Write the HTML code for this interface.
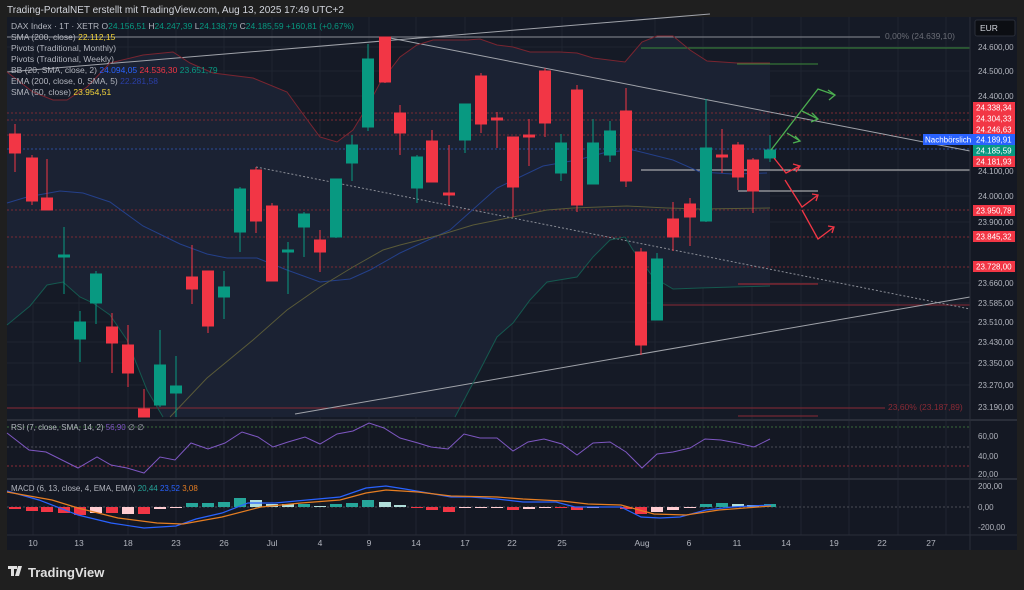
<!DOCTYPE html>
<html><head><meta charset="utf-8"><style>
html,body{margin:0;padding:0;background:#1f1f1f;width:1024px;height:590px;overflow:hidden}
svg{display:block}
text{font-family:"Liberation Sans",sans-serif}
</style></head><body>
<svg width="1024" height="590" viewBox="0 0 1024 590" xmlns="http://www.w3.org/2000/svg">
<rect width="1024" height="590" fill="#1f1f1f"/>
<text x="7" y="13" fill="#d1d4dc" font-size="10">Trading-PortalNET erstellt mit TradingView.com, Aug 13, 2025 17:49 UTC+2</text>
<rect x="7" y="17" width="1010" height="533" fill="#141823"/>
<rect x="7" y="17" width="963" height="403" fill="#151a26"/>
<!-- grid -->
<g stroke="#1f2430" stroke-width="1">
<line x1="33" y1="17" x2="33" y2="535"/><line x1="79" y1="17" x2="79" y2="535"/><line x1="128" y1="17" x2="128" y2="535"/><line x1="176" y1="17" x2="176" y2="535"/><line x1="224" y1="17" x2="224" y2="535"/><line x1="272" y1="17" x2="272" y2="535"/><line x1="320" y1="17" x2="320" y2="535"/><line x1="369" y1="17" x2="369" y2="535"/><line x1="416" y1="17" x2="416" y2="535"/><line x1="465" y1="17" x2="465" y2="535"/><line x1="512" y1="17" x2="512" y2="535"/><line x1="562" y1="17" x2="562" y2="535"/><line x1="655" y1="17" x2="655" y2="535"/><line x1="703" y1="17" x2="703" y2="535"/><line x1="752" y1="17" x2="752" y2="535"/><line x1="801" y1="17" x2="801" y2="535"/><line x1="849" y1="17" x2="849" y2="535"/><line x1="898" y1="17" x2="898" y2="535"/><line x1="946" y1="17" x2="946" y2="535"/>
<line x1="7" y1="47" x2="970" y2="47"/><line x1="7" y1="71" x2="970" y2="71"/><line x1="7" y1="96" x2="970" y2="96"/><line x1="7" y1="171" x2="970" y2="171"/><line x1="7" y1="196" x2="970" y2="196"/><line x1="7" y1="222" x2="970" y2="222"/><line x1="7" y1="283" x2="970" y2="283"/><line x1="7" y1="303" x2="970" y2="303"/><line x1="7" y1="322" x2="970" y2="322"/><line x1="7" y1="342" x2="970" y2="342"/><line x1="7" y1="363" x2="970" y2="363"/><line x1="7" y1="385" x2="970" y2="385"/>
</g>
<!-- BB fill -->
<polygon fill="#1b2233" points="7,72 33,92 53,100 67,100 87,87 110,63 143,55 173,52 190,63 213,73 253,78 287,92 300,110 320,137 337,142 353,130 367,107 380,83 400,57 417,45 433,40 467,40 480,39 497,45 513,47 530,52 560,52 577,53 593,58 625,62 642,42 657,36 673,36 690,50 707,61 737,63 770,63 770,286 733,287 700,288 673,289 653,277 633,250 625,237 610,240 593,257 577,277 547,282 530,300 513,323 497,337 480,370 455,417 163,417 147,390 127,340 110,315 93,303 80,297 63,282 47,285 30,306 7,325"/>
<!-- levels -->
<g stroke-width="1" fill="none">
<line x1="7" y1="37" x2="880" y2="37" stroke="#8a8d96"/>
<g stroke="#7a2a33" stroke-dasharray="2,2"><line x1="7" y1="113" x2="970" y2="113"/><line x1="7" y1="120" x2="970" y2="120"/><line x1="7" y1="135" x2="970" y2="135"/><line x1="7" y1="210" x2="970" y2="210"/><line x1="7" y1="237" x2="970" y2="237"/><line x1="7" y1="267" x2="970" y2="267"/></g>
<line x1="7" y1="149" x2="970" y2="149" stroke="#2a4a9a" stroke-dasharray="2,2"/>
<line x1="7" y1="408" x2="885" y2="408" stroke="#8a2a35"/>
<line x1="641" y1="48" x2="970" y2="48" stroke="#3a8a3a"/>
<line x1="737" y1="64" x2="818" y2="64" stroke="#3a8a3a"/>
<line x1="641" y1="170" x2="970" y2="170" stroke="#c8c8c8"/>
<line x1="738" y1="191" x2="818" y2="191" stroke="#c8c8c8"/>
<line x1="738" y1="284" x2="818" y2="284" stroke="#b02a35"/>
<line x1="656" y1="305" x2="970" y2="305" stroke="#8a2a35"/>
<line x1="738" y1="416" x2="818" y2="416" stroke="#8a2a35"/>
<!-- trendlines -->
<line x1="7" y1="72" x2="710" y2="14" stroke="#a0a3aa"/>
<line x1="385" y1="37" x2="970" y2="151" stroke="#a0a3aa"/>
<line x1="256" y1="167" x2="970" y2="309" stroke="#8a8d96" stroke-dasharray="2,2"/>
<line x1="295" y1="414" x2="970" y2="297" stroke="#a0a3aa"/>
<!-- BB lines -->
<polyline stroke="#7a2530" points="7,72 33,92 53,100 67,100 87,87 110,63 143,55 173,52 190,63 213,73 253,78 287,92 300,110 320,137 337,142 353,130 367,107 380,83 400,57 417,45 433,40 467,40 480,39 497,45 513,47 530,52 560,52 577,53 593,58 625,62 642,42 657,36 673,36 690,50 707,61 737,63 770,63"/>
<polyline stroke="#24408a" points="7,203 27,197 60,191 83,193 110,202 143,226 180,244 207,254 227,258 257,258 287,270 320,282 350,279 370,270 400,253 450,230 497,188 543,166 577,160 607,152 633,150 673,160 700,172 733,174 767,173"/>
<polyline stroke="#15594f" points="7,325 30,306 47,285 63,282 80,297 93,303 110,315 127,340 147,390 163,417"/>
<polyline stroke="#15594f" points="455,417 480,370 497,337 513,323 530,300 547,282 577,277 593,257 610,240 625,237 633,250 653,277 673,289 700,288 733,287 770,286"/>
<polyline stroke="#5a5a38" points="170,417 207,378 253,340 287,310 320,287 353,267 383,250 400,245 440,235 473,225 513,217 547,210 573,208 627,206 667,208 700,209 770,208"/>
</g>
<!-- candles -->
<g stroke-width="1">
<g stroke="#f23645" fill="#f23645">
<line x1="15" y1="124" x2="15" y2="172"/><rect x="9.5" y="134" width="11" height="19"/>
<line x1="32" y1="155" x2="32" y2="205"/><rect x="26.5" y="158" width="11" height="43"/>
<line x1="47" y1="159" x2="47" y2="210"/><rect x="41.5" y="198" width="11" height="12"/>
<line x1="112" y1="313" x2="112" y2="373"/><rect x="106.5" y="327" width="11" height="16"/>
<line x1="128" y1="325" x2="128" y2="387"/><rect x="122.5" y="345" width="11" height="28"/>
<line x1="144" y1="389" x2="144" y2="417"/><rect x="138.5" y="409" width="11" height="8"/>
<line x1="192" y1="245" x2="192" y2="304"/><rect x="186.5" y="277" width="11" height="12"/>
<line x1="208" y1="271" x2="208" y2="333"/><rect x="202.5" y="271" width="11" height="55"/>
<line x1="256" y1="167" x2="256" y2="233"/><rect x="250.5" y="170" width="11" height="51"/>
<line x1="272" y1="203" x2="272" y2="281"/><rect x="266.5" y="206" width="11" height="75"/>
<line x1="320" y1="230" x2="320" y2="272"/><rect x="314.5" y="240" width="11" height="12"/>
<line x1="385" y1="37" x2="385" y2="83"/><rect x="379.5" y="37" width="11" height="45"/>
<line x1="400" y1="105" x2="400" y2="155"/><rect x="394.5" y="113" width="11" height="20"/>
<line x1="432" y1="130" x2="432" y2="182"/><rect x="426.5" y="141" width="11" height="41"/>
<line x1="449" y1="145" x2="449" y2="205"/><rect x="443.5" y="193" width="11" height="2"/>
<line x1="481" y1="73" x2="481" y2="133"/><rect x="475.5" y="76" width="11" height="48"/>
<line x1="497" y1="112" x2="497" y2="148"/><rect x="491.5" y="118" width="11" height="2"/>
<line x1="513" y1="137" x2="513" y2="217"/><rect x="507.5" y="137" width="11" height="50"/>
<line x1="529" y1="119" x2="529" y2="166"/><rect x="523.5" y="135" width="11" height="2"/>
<line x1="545" y1="68" x2="545" y2="137"/><rect x="539.5" y="71" width="11" height="52"/>
<line x1="577" y1="85" x2="577" y2="212"/><rect x="571.5" y="90" width="11" height="115"/>
<line x1="626" y1="88" x2="626" y2="187"/><rect x="620.5" y="111" width="11" height="70"/>
<line x1="641" y1="248" x2="641" y2="355"/><rect x="635.5" y="252" width="11" height="93"/>
<line x1="673" y1="202" x2="673" y2="251"/><rect x="667.5" y="219" width="11" height="18"/>
<line x1="690" y1="198" x2="690" y2="246"/><rect x="684.5" y="204" width="11" height="13"/>
<line x1="722" y1="129" x2="722" y2="173"/><rect x="716.5" y="155" width="11" height="2"/>
<line x1="738" y1="142" x2="738" y2="190"/><rect x="732.5" y="145" width="11" height="32"/>
<line x1="753" y1="158" x2="753" y2="213"/><rect x="747.5" y="160" width="11" height="31"/>
</g>
<g stroke="#089981" fill="#089981">
<line x1="64" y1="227" x2="64" y2="294"/><rect x="58.5" y="255" width="11" height="2"/>
<line x1="80" y1="311" x2="80" y2="362"/><rect x="74.5" y="322" width="11" height="17"/>
<line x1="96" y1="271" x2="96" y2="324"/><rect x="90.5" y="274" width="11" height="29"/>
<line x1="160" y1="330" x2="160" y2="407"/><rect x="154.5" y="365" width="11" height="40"/>
<line x1="176" y1="356" x2="176" y2="417"/><rect x="170.5" y="386" width="11" height="7"/>
<line x1="224" y1="271" x2="224" y2="319"/><rect x="218.5" y="287" width="11" height="10"/>
<line x1="240" y1="187" x2="240" y2="252"/><rect x="234.5" y="189" width="11" height="43"/>
<line x1="288" y1="242" x2="288" y2="294"/><rect x="282.5" y="250" width="11" height="2"/>
<line x1="304" y1="212" x2="304" y2="257"/><rect x="298.5" y="214" width="11" height="13"/>
<line x1="336" y1="179" x2="336" y2="238"/><rect x="330.5" y="179" width="11" height="58"/>
<line x1="352" y1="135" x2="352" y2="181"/><rect x="346.5" y="145" width="11" height="18"/>
<line x1="368" y1="44" x2="368" y2="131"/><rect x="362.5" y="59" width="11" height="68"/>
<line x1="417" y1="155" x2="417" y2="203"/><rect x="411.5" y="157" width="11" height="31"/>
<line x1="465" y1="104" x2="465" y2="153"/><rect x="459.5" y="104" width="11" height="36"/>
<line x1="561" y1="134" x2="561" y2="181"/><rect x="555.5" y="143" width="11" height="30"/>
<line x1="593" y1="119" x2="593" y2="184"/><rect x="587.5" y="143" width="11" height="41"/>
<line x1="610" y1="121" x2="610" y2="162"/><rect x="604.5" y="131" width="11" height="24"/>
<line x1="657" y1="253" x2="657" y2="320"/><rect x="651.5" y="259" width="11" height="61"/>
<line x1="706" y1="99" x2="706" y2="222"/><rect x="700.5" y="148" width="11" height="73"/>
<line x1="770" y1="135" x2="770" y2="162"/><rect x="764.5" y="150" width="11" height="8"/>
</g>
</g>
<!-- forecast arrows -->
<g fill="none" stroke-width="1.3">
<g stroke="#4caf50"><polyline points="771,150 818,89 835,95"/><polyline points="828,90 835,95 829,100"/><polyline points="802,111 818,119"/><polyline points="812,113 818,119 811,122"/><polyline points="787,133 800,141"/><polyline points="795,136 800,141 793,143"/></g>
<g stroke="#f23645"><polyline points="774,158 786,173 800,166"/><polyline points="793,164 800,166 796,172"/><polyline points="785,180 802,207 818,195"/><polyline points="812,194 818,195 816,201"/><polyline points="802,210 818,239 834,227"/><polyline points="828,226 834,227 832,233"/></g>
</g>
<!-- legend -->
<g font-size="8.5">
<text x="11" y="29" fill="#b2b5be">DAX Index · 1T · XETR  <tspan fill="#b2b5be">O</tspan><tspan fill="#089981">24.156,51</tspan> H<tspan fill="#089981">24.247,39</tspan> L<tspan fill="#089981">24.138,79</tspan> C<tspan fill="#089981">24.185,59 +160,81 (+0,67%)</tspan></text>
<text x="11" y="40" fill="#b2b5be">SMA (200, close) <tspan fill="#f5d63c">22.112,15</tspan></text>
<text x="11" y="51" fill="#b2b5be">Pivots (Traditional, Monthly)</text>
<text x="11" y="62" fill="#b2b5be">Pivots (Traditional, Weekly)</text>
<text x="11" y="73" fill="#b2b5be">BB (20, SMA, close, 2) <tspan fill="#2962ff">24.094,05</tspan> <tspan fill="#f23645">24.536,30</tspan> <tspan fill="#089981">23.651,79</tspan></text>
<text x="11" y="84" fill="#b2b5be">EMA (200, close, 0, SMA, 5) <tspan fill="#2a3fa8">22.281,58</tspan></text>
<text x="11" y="95" fill="#b2b5be">SMA (50, close) <tspan fill="#f5d63c">23.954,51</tspan></text>
<text x="885" y="39" fill="#6a6d76">0,00% (24.639,10)</text>
<text x="888" y="410" fill="#8a2a35">23,60% (23.187,89)</text>
</g>
<!-- price axis -->
<line x1="970" y1="17" x2="970" y2="550" stroke="#2a2e39"/>
<rect x="975" y="20" width="40" height="16" rx="2" fill="#0c0e13" stroke="#2a2e39"/>
<text x="980" y="31" fill="#d1d4dc" font-size="8.5">EUR</text>
<g font-size="8" fill="#b2b5be">
<text x="978" y="50">24.600,00</text><text x="978" y="74">24.500,00</text><text x="978" y="99">24.400,00</text><text x="978" y="174">24.100,00</text><text x="978" y="199">24.000,00</text><text x="978" y="225">23.900,00</text><text x="978" y="286">23.660,00</text><text x="978" y="306">23.585,00</text><text x="978" y="325">23.510,00</text><text x="978" y="345">23.430,00</text><text x="978" y="366">23.350,00</text><text x="978" y="388">23.270,00</text><text x="978" y="410">23.190,00</text>
<text x="978" y="439">60,00</text><text x="978" y="459">40,00</text><text x="978" y="477">20,00</text>
<text x="978" y="489">200,00</text><text x="978" y="510">0,00</text><text x="978" y="530">-200,00</text>
</g>
<g font-size="8" fill="#fff">
<rect x="973" y="102" width="42" height="11" fill="#f23645"/><text x="976" y="110.5">24.338,34</text>
<rect x="973" y="113" width="42" height="11" fill="#f23645"/><text x="976" y="121.5">24.304,33</text>
<rect x="973" y="124" width="42" height="11" fill="#f23645"/><text x="976" y="132.5">24.246,63</text>
<rect x="923" y="134" width="50" height="11" fill="#2962ff"/><text x="925" y="142.5">Nachbörslich</text>
<rect x="973" y="134" width="42" height="11" fill="#2962ff"/><text x="976" y="142.5">24.189,91</text>
<rect x="973" y="145" width="42" height="11" fill="#089981"/><text x="976" y="153.5">24.185,59</text>
<rect x="973" y="156" width="42" height="11" fill="#f23645"/><text x="976" y="164.5">24.181,93</text>
<rect x="973" y="205" width="42" height="11" fill="#f23645"/><text x="976" y="213.5">23.950,78</text>
<rect x="973" y="231" width="42" height="11" fill="#f23645"/><text x="976" y="239.5">23.845,32</text>
<rect x="973" y="261" width="42" height="11" fill="#f23645"/><text x="976" y="269.5">23.728,00</text>
</g>
<!-- pane separators -->
<line x1="7" y1="420" x2="1017" y2="420" stroke="#2a2e39" stroke-width="2"/>
<line x1="7" y1="479" x2="1017" y2="479" stroke="#2a2e39" stroke-width="2"/>
<line x1="7" y1="535" x2="1017" y2="535" stroke="#2a2e39"/>
<!-- RSI -->
<line x1="7" y1="427" x2="970" y2="427" stroke="#3a6a3a" stroke-dasharray="2,2"/>
<line x1="7" y1="447" x2="970" y2="447" stroke="#4a4d56" stroke-dasharray="2,2"/>
<line x1="7" y1="466" x2="970" y2="466" stroke="#8a2a35" stroke-dasharray="2,2"/>
<polyline fill="none" stroke="#7e57c2" stroke-width="1" points="7,433 29,450 46,452 78,468 97,457 111,465 127,468 144,473 160,457 175,460 191,443 208,449 225,443 242,432 258,437 273,447 288,442 305,437 320,444 337,434 353,431 369,423 384,428 400,438 418,443 431,447 448,449 464,434 480,438 497,438 513,451 528,442 544,439 562,444 577,455 593,443 610,442 626,452 642,468 657,454 673,452 690,448 705,439 721,440 737,443 754,447 770,439"/>
<text x="11" y="430" font-size="8" fill="#b2b5be">RSI (7, close, SMA, 14, 2) <tspan fill="#7e57c2">56,90</tspan> ∅ ∅</text>
<!-- MACD -->
<line x1="7" y1="507" x2="970" y2="507" stroke="#4a4d56" stroke-dasharray="2,2"/>
<g>
<rect x="9" y="507" width="12" height="2" fill="#f23645"/><rect x="26" y="507" width="12" height="4" fill="#f23645"/><rect x="41" y="507" width="12" height="5" fill="#f23645"/><rect x="58" y="507" width="12" height="6" fill="#f23645"/><rect x="74" y="507" width="12" height="8" fill="#f23645"/><rect x="90" y="507" width="12" height="6" fill="#ffcdd2"/><rect x="106" y="507" width="12" height="6" fill="#f23645"/><rect x="122" y="507" width="12" height="7" fill="#ffcdd2"/><rect x="138" y="507" width="12" height="7" fill="#f23645"/><rect x="154" y="507" width="12" height="2" fill="#ffcdd2"/><rect x="170" y="507" width="12" height="1" fill="#ffcdd2"/>
<rect x="186" y="503" width="12" height="4" fill="#26a69a"/><rect x="202" y="503" width="12" height="4" fill="#26a69a"/><rect x="218" y="502" width="12" height="5" fill="#26a69a"/><rect x="234" y="498" width="12" height="9" fill="#26a69a"/><rect x="250" y="500" width="12" height="7" fill="#b2dfdb"/><rect x="266" y="504" width="12" height="3" fill="#b2dfdb"/><rect x="282" y="504" width="12" height="3" fill="#b2dfdb"/><rect x="298" y="504" width="12" height="3" fill="#26a69a"/><rect x="314" y="506" width="12" height="1" fill="#b2dfdb"/><rect x="330" y="504" width="12" height="3" fill="#26a69a"/><rect x="346" y="503" width="12" height="4" fill="#26a69a"/><rect x="362" y="500" width="12" height="7" fill="#26a69a"/><rect x="379" y="502" width="12" height="5" fill="#b2dfdb"/><rect x="394" y="505" width="12" height="2" fill="#b2dfdb"/>
<rect x="411" y="507" width="12" height="1" fill="#f23645"/><rect x="426" y="507" width="12" height="3" fill="#f23645"/><rect x="443" y="507" width="12" height="5" fill="#f23645"/>
<rect x="459" y="507" width="12" height="1" fill="#ffcdd2"/><rect x="475" y="507" width="12" height="1" fill="#ffcdd2"/><rect x="491" y="507" width="12" height="1" fill="#ffcdd2"/>
<rect x="507" y="507" width="12" height="3" fill="#f23645"/><rect x="523" y="507" width="12" height="2" fill="#ffcdd2"/><rect x="539" y="507" width="12" height="1" fill="#ffcdd2"/><rect x="555" y="507" width="12" height="1" fill="#f23645"/><rect x="571" y="507" width="12" height="3" fill="#f23645"/><rect x="587" y="507" width="12" height="1" fill="#ffcdd2"/><rect x="620" y="507" width="12" height="2" fill="#f23645"/>
<rect x="635" y="507" width="12" height="7" fill="#f23645"/><rect x="651" y="507" width="12" height="5" fill="#ffcdd2"/><rect x="667" y="507" width="12" height="3" fill="#ffcdd2"/><rect x="684" y="507" width="12" height="1" fill="#ffcdd2"/>
<rect x="700" y="504" width="12" height="3" fill="#26a69a"/><rect x="716" y="503" width="12" height="4" fill="#26a69a"/><rect x="732" y="504" width="12" height="3" fill="#b2dfdb"/><rect x="747" y="505" width="12" height="2" fill="#b2dfdb"/><rect x="764" y="504" width="12" height="3" fill="#26a69a"/>
</g>
<polyline fill="none" stroke="#2962ff" stroke-width="1.2" points="7,491 39,500 78,515 111,523 144,528 176,526 196,519 222,513 248,503 275,503 307,500 340,497 366,488 386,486 405,489 451,497 471,497 497,499 523,502 556,502 575,507 621,507 641,517 660,518 680,517 706,510 732,507 771,505"/>
<polyline fill="none" stroke="#e67e22" stroke-width="1.2" points="7,492 52,500 78,508 118,518 157,523 183,524 222,517 261,507 301,503 340,500 366,493 386,490 418,492 451,496 497,497 523,499 562,501 588,504 621,505 654,514 686,515 719,510 771,506"/>
<text x="11" y="491" font-size="8" fill="#b2b5be">MACD (6, 13, close, 4, EMA, EMA) <tspan fill="#26a69a">20,44</tspan> <tspan fill="#2962ff">23,52</tspan> <tspan fill="#e67e22">3,08</tspan></text>
<!-- time axis -->
<g font-size="8.5" fill="#b2b5be" text-anchor="middle">
<text x="33" y="546">10</text><text x="79" y="546">13</text><text x="128" y="546">18</text><text x="176" y="546">23</text><text x="224" y="546">26</text><text x="272" y="546">Jul</text><text x="320" y="546">4</text><text x="369" y="546">9</text><text x="416" y="546">14</text><text x="465" y="546">17</text><text x="512" y="546">22</text><text x="562" y="546">25</text><text x="642" y="546">Aug</text><text x="689" y="546">6</text><text x="737" y="546">11</text><text x="786" y="546">14</text><text x="834" y="546">19</text><text x="882" y="546">22</text><text x="931" y="546">27</text>
</g>
<!-- logo -->
<g fill="#e0e0e0">
<rect x="8" y="566" width="9" height="3"/><rect x="11" y="566" width="3" height="10"/>
<polygon points="18,566 22,566 19,576 15,576"/>
</g>
<text x="28" y="577" font-size="13" font-weight="bold" fill="#e0e0e0">TradingView</text>
</svg>
</body></html>
